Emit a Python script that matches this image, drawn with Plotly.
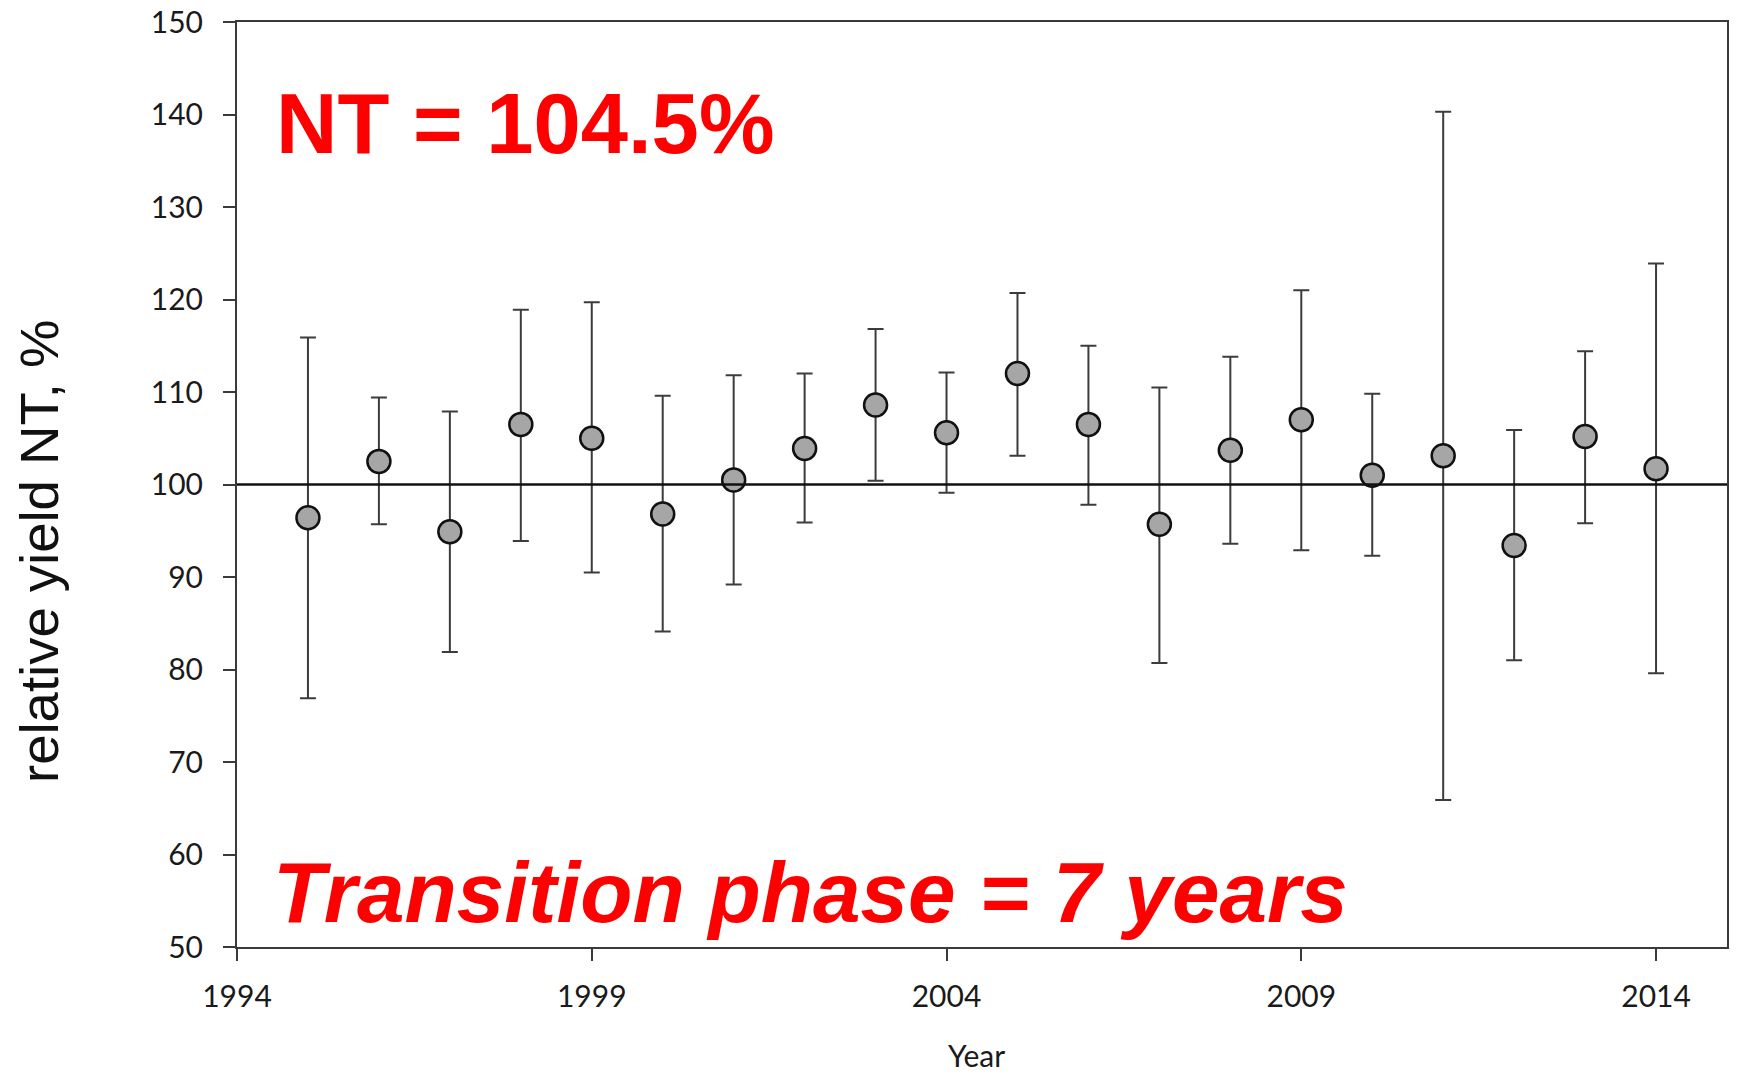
import plotly.graph_objects as go

# Relative yield of no-till (NT) per year, with error range
years = [1995, 1996, 1997, 1998, 1999, 2000, 2001, 2002, 2003, 2004,
         2005, 2006, 2007, 2008, 2009, 2010, 2011, 2012, 2013, 2014]
rel_yield = [96.4, 102.5, 94.9, 106.5, 105.0, 96.8, 100.5, 103.9, 108.6, 105.6,
             112.0, 106.5, 95.7, 103.7, 107.0, 101.0, 103.1, 93.4, 105.2, 101.7]
upper = [115.9, 109.4, 107.9, 118.9, 119.7, 109.6, 111.8, 112.0, 116.8, 112.1,
         120.7, 115.0, 110.5, 113.8, 121.0, 109.8, 140.3, 105.9, 114.4, 123.9]
lower = [76.9, 95.7, 81.9, 93.9, 90.5, 84.1, 89.2, 95.9, 100.4, 99.1,
         103.1, 97.8, 80.7, 93.6, 92.9, 92.3, 65.9, 81.0, 95.8, 79.6]

x_ticks = [1994, 1999, 2004, 2009, 2014]
y_ticks = [50, 60, 70, 80, 90, 100, 110, 120, 130, 140, 150]
reference_level = 100

W, H = 1739, 1075
L, R, T, B = 237, 12, 22, 128
PW, PH = W - L - R, H - T - B


def px(x):
    return (x - L) / PW


def py(y):
    return (H - B - y) / PH


err_plus = [u - m for u, m in zip(upper, rel_yield)]
err_minus = [m - lo for m, lo in zip(rel_yield, lower)]

fig = go.Figure()
fig.add_trace(go.Scatter(
    x=years, y=rel_yield, mode="markers",
    marker=dict(size=23, color="#a6a6a6", line=dict(color="#111111", width=2.5)),
    error_y=dict(type="data", symmetric=False, array=err_plus, arrayminus=err_minus,
                 color="#3c3c3c", thickness=2, width=8),
    showlegend=False,
))

fig.add_shape(type="line", xref="paper", yref="y", x0=0, x1=1,
              y0=reference_level, y1=reference_level,
              line=dict(color="#111111", width=2.7), layer="above")

tick_font = dict(family="Lato", size=30, color="#1a1a1a")
axis_common = dict(showline=True, linecolor="#3a3a3a", linewidth=2, mirror=True,
                   ticks="outside", ticklen=12, tickwidth=2, tickcolor="#3a3a3a",
                   showgrid=False, zeroline=False, tickfont=tick_font, automargin=False)

fig.update_xaxes(range=[1994, 2015], tickvals=x_ticks, ticklabelstandoff=10, **axis_common)
fig.update_yaxes(range=[50, 150], tickvals=y_ticks, ticklabelstandoff=14, **axis_common)

fig.add_annotation(text="relative yield NT, %", textangle=-90,
                   xref="paper", yref="paper", x=px(40), y=py(552),
                   xanchor="center", yanchor="middle", showarrow=False,
                   font=dict(family="Liberation Sans", size=54.5, color="#111111"))
fig.add_annotation(text="Year", xref="paper", yref="paper", x=px(976), y=py(1074),
                   xanchor="center", yanchor="bottom", showarrow=False, borderpad=0,
                   font=dict(family="Lato", size=30, color="#1a1a1a"))
fig.add_annotation(text="<b>NT = 104.5%</b>", xref="paper", yref="paper",
                   x=px(274), y=py(123), xanchor="left", yanchor="middle", showarrow=False,
                   font=dict(family="Liberation Sans", size=85, color="#ff0000"))
fig.add_annotation(text="<b><i>Transition phase = 7 years</i></b>", xref="paper", yref="paper",
                   x=px(271), y=py(892), xanchor="left", yanchor="middle", showarrow=False,
                   font=dict(family="Liberation Sans", size=85.5, color="#ff0000"))

fig.update_layout(width=W, height=H, margin=dict(l=L, r=R, t=T, b=B),
                  paper_bgcolor="white", plot_bgcolor="white")

fig.write_html("out.html")
